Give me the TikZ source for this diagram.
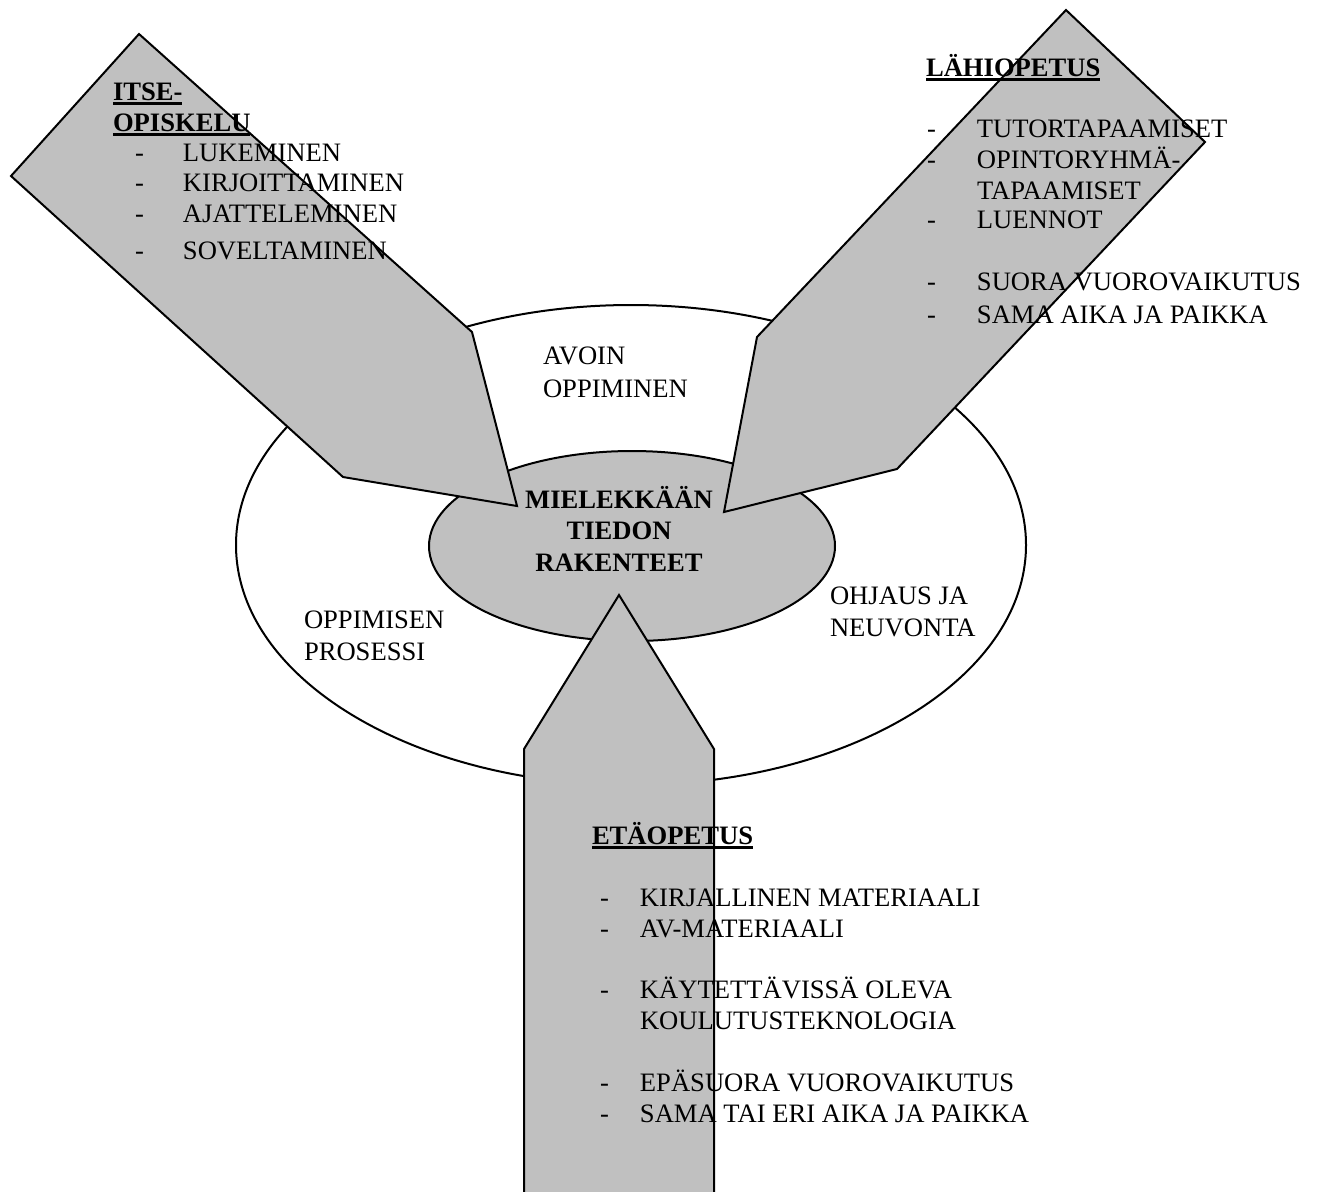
\documentclass[tikz,border=0pt]{standalone}
\usepackage{fontspec}
\setmainfont{Liberation Serif}
\definecolor{panelgray}{HTML}{C0C0C0}
% underlined heading text
\newsavebox{\hdbox}
\newcommand{\hdul}[1]{\sbox{\hdbox}{#1}\rlap{\rule[-2.3pt]{\wd\hdbox}{1.3pt}}\usebox{\hdbox}}
% list entry: dash, then the entry after a fixed indent
\newcommand{\dashentry}[2]{\makebox[#1][l]{-}#2}
\begin{document}
\begin{tikzpicture}[x=0.5pt,y=-0.5pt,
  blockarrow/.style={draw=black,line width=1pt,fill=panelgray,line join=miter},
  ring/.style={draw=black,line width=1pt},
  txt/.style={anchor=base west,inner sep=0pt,outer sep=0pt,font=\fontsize{13.3pt}{16pt}\selectfont},
  hd/.style={txt,font=\fontsize{13.3pt}{16pt}\selectfont\bfseries},
  core/.style={anchor=base,inner sep=0pt,outer sep=0pt,font=\fontsize{13.3pt}{16pt}\selectfont\bfseries}]
\useasboundingbox (0,0) rectangle (1317,1191);
\clip (0,0) rectangle (1317,1191);

% outer ring and inner core
\draw[ring,fill=white] (631,545) ellipse [x radius=395, y radius=240];
\draw[ring,fill=panelgray] (632,546) ellipse [x radius=203, y radius=95];

% three block arrows pointing at the core
\draw[blockarrow] (139,34) -- (11,176) -- (343,477) -- (517,506) -- (472,332) -- cycle;
\draw[blockarrow] (1066,10) -- (1205,142) -- (897,469) -- (724,512) -- (757,337) -- cycle;
\draw[blockarrow] (524,1210) -- (524,749) -- (619,595) -- (714,749) -- (714,1210) -- cycle;

% self-study
\node[hd] (itseA) at (113,100) {\hdul{ITSE-}};
\node[hd] (itseB) at (113,131) {\hdul{OPISKELU}};
\node[txt] (itse1) at (135,161) {\dashentry{24pt}{LUKEMINEN}};
\node[txt] (itse2) at (135,191) {\dashentry{24pt}{KIRJOITTAMINEN}};
\node[txt] (itse3) at (135,222) {\dashentry{24pt}{AJATTELEMINEN}};
\node[txt] (itse4) at (135,259) {\dashentry{24pt}{SOVELTAMINEN}};

% contact teaching
\node[hd] (lahi) at (926,76) {\hdul{LÄHIOPETUS}};
\node[txt] (lahi1) at (927,137) {\dashentry{25pt}{TUTORTAPAAMISET}};
\node[txt] (lahi2) at (927,168) {\dashentry{25pt}{OPINTORYHMÄ-}};
\node[txt] (lahi2b) at (977,199) {TAPAAMISET};
\node[txt] (lahi3) at (927,228) {\dashentry{25pt}{LUENNOT}};
\node[txt] (lahi4) at (927,290) {\dashentry{25pt}{SUORA VUOROVAIKUTUS}};
\node[txt] (lahi5) at (927,323) {\dashentry{25pt}{SAMA AIKA JA PAIKKA}};

% ring labels
\node[txt] (avoinA) at (543,364) {AVOIN};
\node[txt] (avoinB) at (543,397) {OPPIMINEN};
\node[txt] (prosA) at (304,628) {OPPIMISEN};
\node[txt] (prosB) at (304,660) {PROSESSI};
\node[txt] (ohjA) at (830,604) {OHJAUS JA};
\node[txt] (ohjB) at (830,636) {NEUVONTA};

% core label
\node[core] (coreA) at (619,508) {MIELEKKÄÄN};
\node[core] (coreB) at (619,539) {TIEDON};
\node[core] (coreC) at (619,571) {RAKENTEET};

% distance teaching
\node[hd] (eta) at (592,844) {\hdul{ETÄOPETUS}};
\node[txt] (eta1) at (600,906) {\dashentry{20pt}{KIRJALLINEN MATERIAALI}};
\node[txt] (eta2) at (600,937) {\dashentry{20pt}{AV-MATERIAALI}};
\node[txt] (eta3) at (600,998) {\dashentry{20pt}{KÄYTETTÄVISSÄ OLEVA}};
\node[txt] (eta3b) at (640,1029) {KOULUTUSTEKNOLOGIA};
\node[txt] (eta4) at (600,1091) {\dashentry{20pt}{EPÄSUORA VUOROVAIKUTUS}};
\node[txt] (eta5) at (600,1122) {\dashentry{20pt}{SAMA TAI ERI AIKA JA PAIKKA}};
\end{tikzpicture}
\end{document}
